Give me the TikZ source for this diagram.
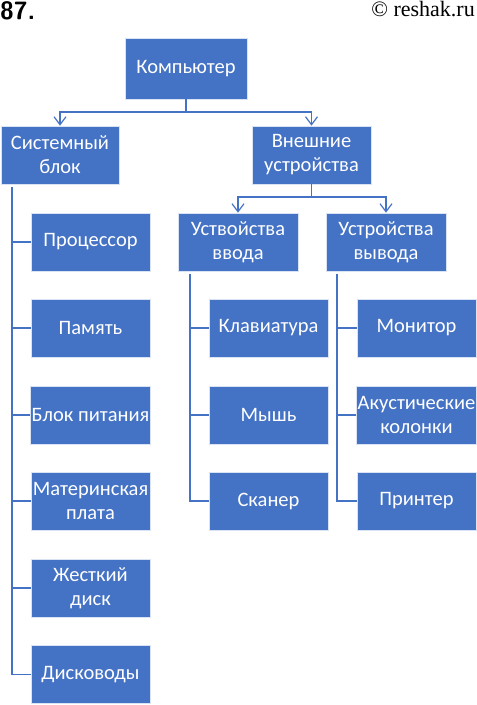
\documentclass[tikz,border=0pt]{standalone}
\usepackage{fontspec}
\setmainfont{Carlito}
\newfontfamily\serifx{Liberation Serif}
\usetikzlibrary{arrows.meta}
\definecolor{obl}{HTML}{4472C4}
\begin{document}
\begin{tikzpicture}[x=1pt,y=-1pt,
  box/.style={draw=white!80!obl,line width=0.6pt,fill=obl,text=white,
    minimum width=119pt,minimum height=58pt,inner sep=1pt,align=center,
    font=\fontsize{20.5}{24}\selectfont},
  conn/.style={draw=obl,line width=1.4pt},
  arr/.style={conn,-{Straight Barb[length=8pt,width=12pt,line width=1.2pt]}}]
\useasboundingbox (0,0) rectangle (477,705);
\node[anchor=north west,font=\sffamily\bfseries\fontsize{25}{26}\selectfont,inner sep=0pt] (num) at (0,1) {87.};
\node[anchor=north east,font=\serifx\fontsize{22}{24}\selectfont,inner sep=0pt] (copy) at (475,1) {© reshak.ru};
% boxes
\node[box,minimum width=122pt,minimum height=61pt] (comp) at (186,68.5) {Компьютер};
\node[box,minimum width=118pt] (sb) at (60,155) {Системный\\блок};
\node[box] (ext) at (311.5,155) {Внешние\\устройства};
\node[box,minimum width=120pt] (in) at (238,242) {Уствойства\\ввода};
\node[box,minimum width=120pt] (out) at (386,242) {Устройства\\вывода};
\node[box] (p1) at (90.5,242) {Процессор};
\node[box] (p2) at (90.5,328) {Память};
\node[box] (p3) at (90.5,415) {Блок питания};
\node[box] (p4) at (90.5,501) {Материнская\\плата};
\node[box] (p5) at (90.5,588) {Жесткий\\диск};
\node[box] (p6) at (90.5,674.5) {Дисководы};
\node[box] (k1) at (268.5,328) {Клавиатура};
\node[box] (k2) at (268.5,415) {Мышь};
\node[box] (k3) at (268.5,501) {Сканер};
\node[box] (m1) at (416.5,328) {Монитор};
\node[box] (m2) at (416.5,415) {Акустические\\колонки};
\node[box] (m3) at (416.5,501) {Принтер};
% top bus
\coordinate (b0) at (186,112);
\draw[conn] (comp.south) -- (b0);
\draw[arr] (b0) -| (sb.north);
\draw[arr] (b0) -| (ext.north);
\coordinate (b1) at (311.5,197);
\draw[conn] (ext.south) -- (b1);
\draw[arr] (b1) -| (in.north);
\draw[arr] (b1) -| (out.north);
% trunks
\coordinate (t0) at (12,187);
\draw[conn] (t0) |- (p6.west);
\foreach \n in {p1,p2,p3,p4,p5} \draw[conn] (\n.west) -- (\n.west -| t0);
\coordinate (t1) at (190,274);
\draw[conn] (t1) |- (k3.west);
\foreach \n in {k1,k2} \draw[conn] (\n.west) -- (\n.west -| t1);
\coordinate (t2) at (337,274);
\draw[conn] (t2) |- (m3.west);
\foreach \n in {m1,m2} \draw[conn] (\n.west) -- (\n.west -| t2);
\end{tikzpicture}
\end{document}
